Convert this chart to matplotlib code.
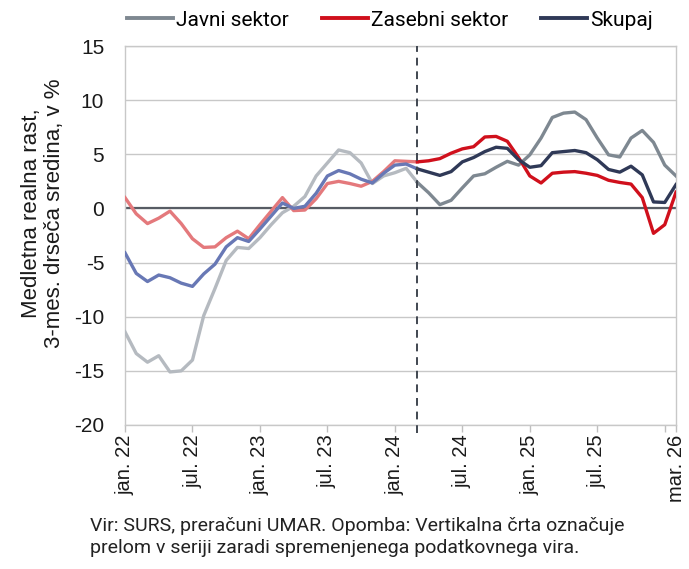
import matplotlib
matplotlib.use("Agg")
import matplotlib.pyplot as plt
from matplotlib.lines import Line2D

# ---- data (monthly, 3-month moving average, %) ----
javni = [-11.4, -13.4, -14.2, -13.6, -15.1, -15.0, -14.0, -9.9, -7.4, -4.8,
         -3.6, -3.7, -2.7, -1.5, -0.4, 0.2, 1.1, 3.0, 4.2, 5.4,
         5.15, 4.2, 2.3, 3.0, 3.3, 3.7, 2.4, 1.45, 0.35, 0.75,
         1.9, 3.0, 3.2, 3.8, 4.35, 4.0, 4.95, 6.5, 8.4, 8.8,
         8.9, 8.2, 6.5, 4.95, 4.75, 6.5, 7.2, 6.1, 4.0, 3.0]
zasebni = [1.0, -0.5, -1.4, -0.9, -0.25, -1.4, -2.8, -3.6, -3.55, -2.7,
           -2.1, -2.8, -1.5, -0.25, 1.0, -0.2, -0.15, 0.9, 2.3, 2.5,
           2.3, 2.05, 2.5, 3.4, 4.4, 4.35, 4.3, 4.4, 4.6, 5.1,
           5.5, 5.7, 6.6, 6.65, 6.2, 4.7, 3.0, 2.35, 3.25, 3.35,
           3.4, 3.25, 3.05, 2.6, 2.4, 2.25, 1.0, -2.3, -1.5, 1.5]
skupaj = [-4.1, -6.0, -6.75, -6.15, -6.4, -6.9, -7.2, -6.05, -5.15, -3.55,
          -2.7, -3.05, -1.9, -0.7, 0.5, 0.0, 0.2, 1.4, 3.0, 3.5,
          3.2, 2.7, 2.35, 3.25, 4.0, 4.1, 3.65, 3.35, 3.05, 3.4,
          4.3, 4.7, 5.25, 5.65, 5.55, 4.5, 3.8, 3.95, 5.15, 5.25,
          5.35, 5.15, 4.5, 3.6, 3.35, 3.9, 3.1, 0.6, 0.55, 2.2]
series_names = ["Javni sektor", "Zasebni sektor", "Skupaj"]
break_index = 26
tick_positions = [0, 6, 12, 18, 24, 30, 36, 42, 48, 49]
tick_labels = ["jan. 22", "jul. 22", "jan. 23", "jul. 23", "jan. 24",
               "jul. 24", "jan. 25", "jul. 25", "", "mar. 26"]
y_ticks = [-20, -15, -10, -5, 0, 5, 10, 15]

dark_colors = ["#7E8891", "#D0101C", "#2F3957"]
light_colors = ["#B5BAC0", "#E4797C", "#6878B5"]

W, H = 689, 569
fig = plt.figure(figsize=(W / 100, H / 100), dpi=100)
ax = fig.add_axes([125 / W, 1 - 425 / H, (676 - 125) / W, (425 - 46) / H])

x = list(range(len(javni)))
for vals, lc in zip([javni, zasebni, skupaj], light_colors):
    ax.plot(x[:break_index + 1], vals[:break_index + 1], color=lc, lw=2.4,
            solid_joinstyle="round", zorder=3)
for vals, dc in zip([javni, zasebni, skupaj], dark_colors):
    ax.plot(x[break_index:], vals[break_index:], color=dc, lw=2.4,
            solid_joinstyle="round", zorder=4)

ax.axhline(0, color="#575C64", lw=1.6, zorder=2)
ax.axvline(break_index, color="#404650", lw=1.4, ls=(0, (4, 3)), zorder=5,
           ymin=-0.02, ymax=1.0, clip_on=False)

ax.set_xlim(0, len(javni) - 1)
ax.set_ylim(-20, 15)
ax.set_yticks(y_ticks)
ax.set_yticklabels([str(v) for v in y_ticks])
ax.grid(axis="y", color="#C8C8C8", lw=1.0, zorder=0)
ax.set_xticks(tick_positions)
ax.set_xticklabels(tick_labels, rotation=90)
ax.tick_params(axis="x", length=5, color="#BFBFBF", width=1, pad=2,
               labelsize=14.5)
ax.tick_params(axis="y", length=0, pad=15, labelsize=15)
for lab in ax.get_yticklabels() + ax.get_xticklabels():
    lab.set_fontfamily("Liberation Sans")
    lab.set_color("#1A1A1A")
for s in ax.spines.values():
    s.set_color("#C8C8C8")
    s.set_linewidth(1.0)

fig.text(43 / W, 1 - 213 / H,
         "Medletna realna rast,\n3-mes. drseča sredina, v %",
         fontfamily="Liberation Sans", fontsize=16, rotation=90,
         ha="center", va="center", multialignment="center",
         linespacing=1.15, color="#1A1A1A")

handles = [Line2D([0], [0], color=c, lw=2.8) for c in dark_colors]
fig.legend(handles, series_names, loc="center",
           bbox_to_anchor=(390 / W, 1 - 20 / H),
           ncol=3, frameon=False, handlelength=2.2, handletextpad=0.15,
           columnspacing=1.6, prop={"family": "Roboto", "size": 15})

fig.text(90 / W, 1 - 537 / H,
         "Vir: SURS, preračuni UMAR. Opomba: Vertikalna črta označuje\n"
         "prelom v seriji zaradi spremenjenega podatkovnega vira.",
         fontfamily="Roboto", fontsize=14, va="center", ha="left",
         linespacing=1.25, color="#222222")

fig.savefig("out.png", dpi=100)
